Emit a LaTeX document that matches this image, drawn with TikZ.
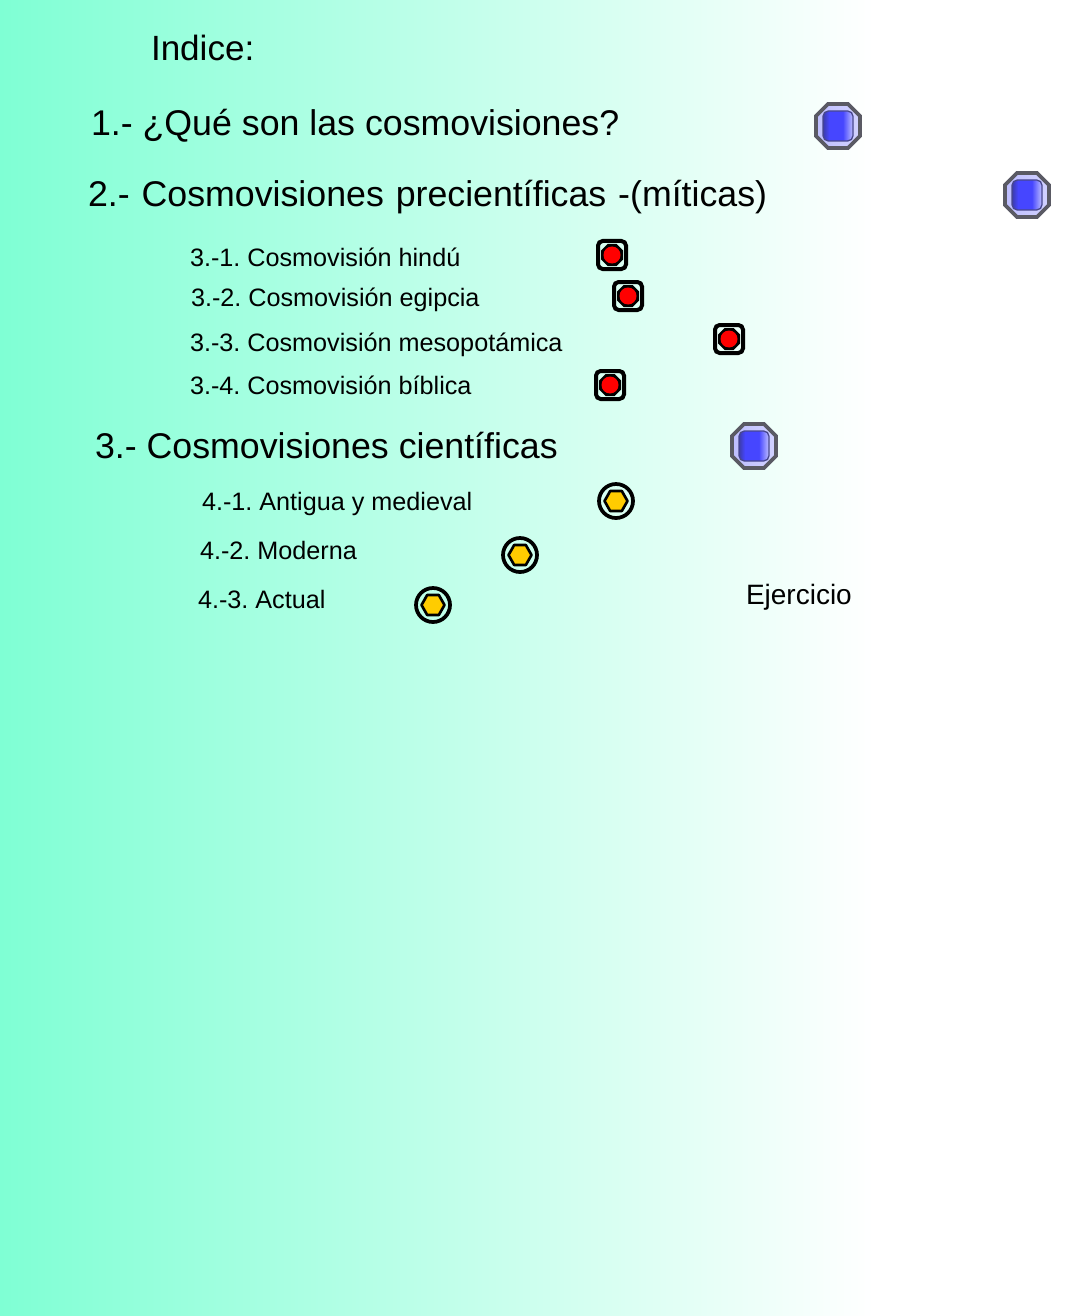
\documentclass[tikz,border=0pt]{standalone}
\usepackage{fontspec}
\setmainfont{Liberation Sans}
\definecolor{bgA}{RGB}{127,255,212}
\definecolor{bluefill}{RGB}{70,70,255}
\definecolor{blueedge}{RGB}{90,90,100}
\definecolor{bluelight}{RGB}{190,190,255}
\definecolor{bluedark}{RGB}{60,60,170}
\definecolor{goldfill}{RGB}{255,204,0}
\pgfdeclarehorizontalshading{bgshade}{100bp}{
  color(0bp)=(bgA); color(25bp)=(bgA); color(66bp)=(white); color(100bp)=(white)}
\pgfdeclarehorizontalshading{btnshade}{100bp}{
  color(0bp)=(bluedark); color(25bp)=(bluedark); color(35bp)=(bluefill); color(58bp)=(bluefill); color(75bp)=(bluelight); color(100bp)=(bluelight)}
\tikzset{
  x=0.75pt,y=-0.75pt,
  lab/.style={anchor=base west,inner sep=0pt,outer sep=0pt,text=black},
  big/.style={lab,font=\fontsize{26.8}{30}\selectfont\frenchspacing},
  small/.style={lab,font=\fontsize{18.9}{22}\selectfont\frenchspacing},
  mid/.style={lab,font=\fontsize{21}{25}\selectfont},
}
\newcommand{\bluebtn}[2]{%
  \path[shift={(#1,#2)},draw=blueedge,line width=2.8pt,left color=bluelight,right color=bluelight!70!white]
    (-10,-22)--(10,-22)--(22,-10)--(22,10)--(10,22)--(-10,22)--(-22,10)--(-22,-10)--cycle;
  \path[shift={(#1,#2)},draw=bluedark!60!blueedge,line width=1pt,rounded corners=4pt,shading=btnshade]
    (-15,-15) rectangle (15,15);
}
\newcommand{\redbtn}[2]{%
  \draw[shift={(#1,#2)},black,line width=3pt,rounded corners=3.5pt] (-14,-14) rectangle (14,14);
  \fill[shift={(#1,#2)},black] (-11,-4.5)--(-4.5,-11)--(4.5,-11)--(11,-4.5)--(11,4.5)--(4.5,11)--(-4.5,11)--(-11,4.5)--cycle;
  \fill[shift={(#1,#2)},red] (0,0) circle[radius=8.5];
}
\newcommand{\hexbtn}[2]{%
  \draw[shift={(#1,#2)},black,line width=2.8pt] (0,0) circle[radius=17];
  \path[shift={(#1,#2)},fill=goldfill,draw=black,line width=2pt,line join=round]
    (-11.5,0)--(-5.8,-10)--(5.8,-10)--(11.5,0)--(5.8,10)--(-5.8,10)--cycle;
}
\begin{document}
\begin{tikzpicture}
\useasboundingbox (0,0) rectangle (1066,1316);
\shade[shading=bgshade] (0,0) rectangle (1066,1316);
\node[big,font=\fontsize{26.3}{30}\selectfont] (t0) at (151,61) {Indice:};
\node[big] (t1) at (91,135.5) {1.- ¿Qué son las cosmovisiones?};
\node[big] (t2) at (88,207) {\spaceskip=0.334em\relax 2.- Cosmovisiones precientíficas -(míticas)};
\node[small] (a1) at (190,266.5) {3.-1. Cosmovisión hindú};
\node[small] (a2) at (191,306) {3.-2. Cosmovisión egipcia};
\node[small] (a3) at (190,351) {3.-3. Cosmovisión mesopotámica};
\node[small] (a4) at (190,394) {3.-4. Cosmovisión bíblica};
\node[big] (t3) at (95,458) {3.- Cosmovisiones científicas};
\node[small] (b1) at (202,510) {4.-1. Antigua y medieval};
\node[small] (b2) at (200,559) {4.-2. Moderna};
\node[small] (b3) at (198,608) {4.-3. Actual};
\node[mid] (ex) at (746,604) {Ejercicio};
\bluebtn{838}{126}
\bluebtn{1027}{195}
\bluebtn{754}{446}
\redbtn{612}{255}
\redbtn{628}{296}
\redbtn{729}{339}
\redbtn{610}{385}
\hexbtn{616}{501}
\hexbtn{520}{555}
\hexbtn{433}{605}
\end{tikzpicture}
\end{document}
